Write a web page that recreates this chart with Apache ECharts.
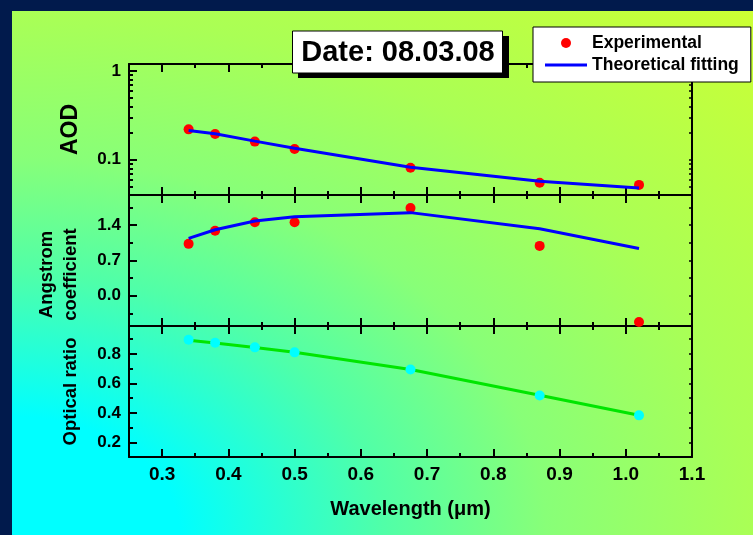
<!DOCTYPE html>
<html>
<head>
<meta charset="utf-8">
<script src="https://cdn.jsdelivr.net/npm/echarts@6/dist/echarts.min.js"></script>
<style>
html,body{margin:0;padding:0;background:#011a4c;}
#chart{width:753px;height:535px;}
</style>
</head>
<body>
<div id="chart"></div>
<script>
// ---- data ----
const wavelength = [0.34, 0.38, 0.44, 0.50, 0.675, 0.87, 1.02];
const aodExperimental = [0.22, 0.195, 0.16, 0.132, 0.081, 0.055, 0.052];
const aodFit = [0.213, 0.196, 0.162, 0.135, 0.082, 0.057, 0.048];
const angstromExperimental = [1.03, 1.29, 1.46, 1.46, 1.74, 0.99, -0.52];
const angstromFit = [1.14, 1.31, 1.485, 1.57, 1.65, 1.33, 0.94];
const ratioPoints = [0.897, 0.876, 0.845, 0.811, 0.694, 0.518, 0.383];
const ratioFit = [0.893, 0.874, 0.844, 0.812, 0.694, 0.520, 0.383];

const xMajorTicks = [0.3, 0.4, 0.5, 0.6, 0.7, 0.8, 0.9, 1.0, 1.1];
const xMinorTicks = [0.35, 0.45, 0.55, 0.65, 0.75, 0.85, 0.95, 1.05];
const aodMajorTicks = [0.1, 1];
const aodMinorTicks = [0.05, 0.06, 0.07, 0.08, 0.09, 0.2, 0.3, 0.4, 0.5, 0.6, 0.7, 0.8, 0.9];
const angMajorTicks = [0.0, 0.7, 1.4];
const angMinorTicks = [-0.35, 0.35, 1.05, 1.75];
const ratioMajorTicks = [0.2, 0.4, 0.6, 0.8];
const ratioMinorTicks = [0.3, 0.5, 0.7, 0.9];

const FONT = '"Liberation Sans", Arial, Helvetica, sans-serif';
const pair = arr => wavelength.map((w, i) => [w, arr[i]]);

const grids = [
  {left: 129, right: 61, top: 64, height: 131},
  {left: 129, right: 61, top: 195, height: 131},
  {left: 129, right: 61, top: 326, height: 131}
];

const blackLine = {show: true, onZero: false, lineStyle: {color: '#000', width: 2}};
const hiddenLine = {show: false, onZero: false};

function xAxesFor(gi, labels) {
  const base = {type: 'value', gridIndex: gi, min: 0.25, max: 1.1, splitLine: {show: false}};
  return [
    Object.assign({}, base, {
      position: 'bottom', axisLine: blackLine,
      axisTick: {show: true, inside: true, length: 8, customValues: xMajorTicks, lineStyle: {color: '#000', width: 2}},
      axisLabel: labels ? {show: true, customValues: xMajorTicks, margin: 8, color: '#000', fontSize: 19, fontWeight: 'bold', fontFamily: FONT,
        formatter: v => v.toFixed(1)} : {show: false},
      name: labels ? 'Wavelength (\u03bcm)' : '', nameLocation: 'middle', nameGap: 42,
      nameTextStyle: {color: '#000', fontSize: 20, fontWeight: 'bold', fontFamily: FONT}
    }),
    Object.assign({}, base, {
      position: 'bottom', axisLine: hiddenLine,
      axisTick: {show: true, inside: true, length: 4, customValues: xMinorTicks, lineStyle: {color: '#000', width: 2}},
      axisLabel: {show: false}
    }),
    Object.assign({}, base, {
      position: 'top', axisLine: blackLine,
      axisTick: {show: true, inside: true, length: 8, customValues: xMajorTicks, lineStyle: {color: '#000', width: 2}},
      axisLabel: {show: false}
    }),
    Object.assign({}, base, {
      position: 'top', axisLine: hiddenLine,
      axisTick: {show: true, inside: true, length: 4, customValues: xMinorTicks, lineStyle: {color: '#000', width: 2}},
      axisLabel: {show: false}
    })
  ];
}

function yAxesFor(gi, cfg) {
  const base = {type: cfg.type, gridIndex: gi, min: cfg.min, max: cfg.max, splitLine: {show: false}};
  if (cfg.type === 'log') base.logBase = 10;
  return [
    Object.assign({}, base, {
      position: 'left', axisLine: blackLine,
      axisTick: {show: true, inside: true, length: 8, customValues: cfg.major, lineStyle: {color: '#000', width: 2}},
      axisLabel: {show: true, customValues: cfg.major, margin: 8, color: '#000', fontSize: 17, fontWeight: 'bold', fontFamily: FONT,
        formatter: cfg.fmt},
      name: cfg.name, nameLocation: 'middle', nameRotate: 90, nameGap: cfg.gap,
      nameTextStyle: {color: '#000', fontSize: cfg.nameSize, fontWeight: 'bold', fontFamily: FONT, lineHeight: 24,
        padding: cfg.namePad || 0}
    }),
    Object.assign({}, base, {
      position: 'left', axisLine: hiddenLine,
      axisTick: {show: true, inside: true, length: 4, customValues: cfg.minor, lineStyle: {color: '#000', width: 2}},
      axisLabel: {show: false}
    }),
    Object.assign({}, base, {
      position: 'right', axisLine: blackLine,
      axisTick: {show: true, inside: true, length: 3, customValues: cfg.major.concat(cfg.minor), lineStyle: {color: '#000', width: 1.5}},
      axisLabel: {show: false}
    })
  ];
}

const xAxis = [].concat(xAxesFor(0, false), xAxesFor(1, false), xAxesFor(2, true));
const yAxis = [].concat(
  yAxesFor(0, {type: 'log', min: 0.04, max: 1.2, major: aodMajorTicks, minor: aodMinorTicks,
    fmt: v => (Math.abs(v - 1) < 1e-9 ? '1' : '0.1'), name: 'AOD', gap: 46, nameSize: 23}),
  yAxesFor(1, {type: 'value', min: -0.6, max: 2.0, major: angMajorTicks, minor: angMinorTicks,
    fmt: v => v.toFixed(1), name: 'Angstrom\ncoefficient', gap: 46, nameSize: 18.5, namePad: [0, 28, 0, 0]}),
  yAxesFor(2, {type: 'value', min: 0.1, max: 0.99, major: ratioMajorTicks, minor: ratioMinorTicks,
    fmt: v => v.toFixed(1), name: 'Optical ratio', gap: 46, nameSize: 18.5})
);

const series = [
  {name: 'Experimental', type: 'scatter', xAxisIndex: 0, yAxisIndex: 0, data: pair(aodExperimental),
    symbolSize: 10, itemStyle: {color: '#ff0000', opacity: 1}, z: 2},
  {name: 'Theoretical fitting', type: 'line', xAxisIndex: 0, yAxisIndex: 0, data: pair(aodFit),
    symbol: 'none', lineStyle: {color: '#0000ff', width: 3}, itemStyle: {color: '#0000ff'}, z: 3},
  {name: 'Experimental', type: 'scatter', xAxisIndex: 4, yAxisIndex: 3, data: pair(angstromExperimental),
    symbolSize: 10, itemStyle: {color: '#ff0000', opacity: 1}, z: 2},
  {name: 'Theoretical fitting', type: 'line', xAxisIndex: 4, yAxisIndex: 3, data: pair(angstromFit),
    symbol: 'none', lineStyle: {color: '#0000ff', width: 3}, itemStyle: {color: '#0000ff'}, z: 3},
  {name: 'Optical ratio fit', type: 'line', xAxisIndex: 8, yAxisIndex: 6, data: pair(ratioFit),
    symbol: 'none', lineStyle: {color: '#00e600', width: 3}, itemStyle: {color: '#00e600'}, z: 2},
  {name: 'Optical ratio', type: 'scatter', xAxisIndex: 8, yAxisIndex: 6, data: pair(ratioPoints),
    symbolSize: 10, itemStyle: {color: '#00ffff', opacity: 1}, z: 3}
];

const chart = echarts.init(document.getElementById('chart'), null, {renderer: 'canvas'});
const option = {
  animation: false,
  backgroundColor: '#011a4c',
  graphic: [
    {type: 'rect', x: 12, y: 11, scaleY: 524 / 741, silent: true, z: -10,
      shape: {x: 0, y: 0, width: 741, height: 741},
      style: {fill: new echarts.graphic.RadialGradient(0, 1, 1.414, [
        {offset: 0, color: '#00ffff'},
        {offset: 0.16, color: '#00ffff'},
        {offset: 0.354, color: '#50ffa8'},
        {offset: 0.51, color: '#88ff78'},
        {offset: 0.707, color: '#aaff55'},
        {offset: 1, color: '#ccff33'}
      ])}},
    {type: 'rect', silent: true, z: 100, shape: {x: 298, y: 36, width: 211, height: 42}, style: {fill: '#000'}},
    {type: 'rect', silent: true, z: 101, shape: {x: 292.5, y: 31, width: 210, height: 42},
      style: {fill: '#fff', stroke: '#000', lineWidth: 1}},
    {type: 'text', silent: true, z: 102, x: 398, y: 53,
      style: {text: 'Date: 08.03.08', fill: '#000', font: 'bold 29px ' + FONT, align: 'center', verticalAlign: 'middle'}}
  ],
  legend: {
    data: [
      {name: 'Experimental', icon: 'circle'},
      {name: 'Theoretical fitting', icon: 'path://M0,0L42,0L42,3L0,3Z'}
    ],
    orient: 'vertical', left: 533, top: 27, padding: [7, 12, 8, 12], itemGap: 4,
    itemWidth: 42, itemHeight: 10, selectedMode: false,
    backgroundColor: '#fff', borderColor: '#000', borderWidth: 1, borderRadius: 0,
    textStyle: {color: '#000', fontSize: 17.5, fontWeight: 'bold', fontFamily: FONT}
  },
  grid: grids,
  xAxis: xAxis,
  yAxis: yAxis,
  series: series
};
chart.setOption(option);
</script>
</body>
</html>
